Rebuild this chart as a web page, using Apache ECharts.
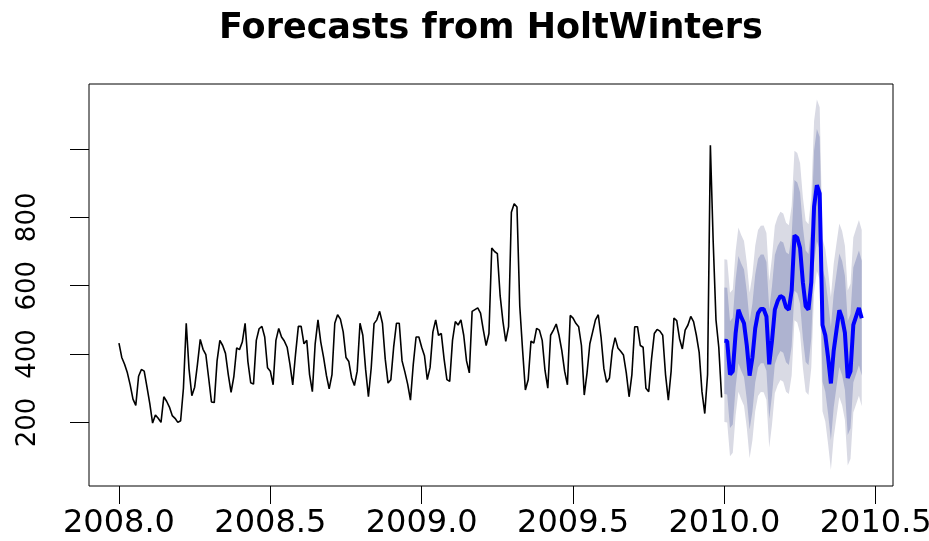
<!DOCTYPE html>
<html>
<head>
<meta charset="utf-8">
<script src="https://cdn.jsdelivr.net/npm/echarts@6/dist/echarts.min.js"></script>
<style>
  html, body { margin: 0; padding: 0; background: #ffffff; }
  #chart { width: 929px; height: 541px; }
</style>
</head>
<body>
<div id="chart"></div>
<script>
// Series starts at 2008.0 with 108 observations per year
const seriesStart = 2008;
const seriesFrequency = 108;

// Observed values, 2008.0 up to the end of 2009
const observed = [
  432, 390, 370, 345, 310, 268, 250, 335, 355, 350,
  303, 255, 198, 222, 212, 200, 275, 262, 245, 220,
  212, 200, 205, 300, 490, 356, 278, 303, 370, 443,
  414, 398, 330, 260, 258, 380, 440, 425, 402, 340,
  288, 335, 418, 413, 435, 490, 378, 316, 312, 440,
  474, 481, 450, 360,
  350, 310, 440, 475, 450, 438, 420, 370, 310, 400,
  481, 481, 430, 440, 340, 290, 430, 500, 435, 390,
  338, 298, 340, 490, 515, 502, 465, 390, 378, 330,
  308, 350, 490, 455, 355, 275, 360, 489, 500, 525,
  490, 385, 315, 325, 420, 490, 490, 380, 348, 312,
  265, 370, 450, 450,
  420, 395, 325, 361, 465, 500, 455, 460, 385, 325,
  320, 440, 495, 485, 500, 455, 380, 345, 525, 530,
  535, 520, 470, 425, 460, 710, 700, 694, 570, 495,
  437, 480, 815, 840, 830, 540, 412, 295, 325, 438,
  432, 475, 470, 440, 352, 300, 455, 470, 488, 455,
  410, 350, 310, 513, 505, 490,
  480, 425, 280, 345, 430, 465, 500, 515, 449, 358,
  317, 330, 410, 448, 418, 408, 397, 345, 275, 340,
  480, 480, 425, 420, 300, 290, 385, 460, 472, 467,
  455, 340, 265, 350, 505, 498, 445, 415, 470, 485,
  510, 495, 455, 405, 290, 226, 340, 1011, 730, 500,
  420, 273
];

// HoltWinters point forecasts from 2010.0
const forecastStart = 2010;
const forecastMean = [
  439, 438, 340, 350, 460, 530, 508, 490, 425, 337,
  390, 475, 520, 532, 532, 510, 370, 440, 530, 555,
  570, 565, 537, 530, 585, 747, 740, 710, 610, 540,
  530, 610, 831, 894, 870, 485, 455, 390, 314, 410,
  470, 528, 505, 462, 330, 350, 485, 510, 535, 505
];

// 80% prediction interval
const lower80 = [
  283, 282, 184, 194, 303, 373, 351, 333, 267, 179,
  232, 317, 361, 373, 373, 351, 210, 280, 370, 394,
  409, 404, 376, 368, 423, 585, 578, 547, 447, 377,
  367, 446, 667, 730, 705, 320, 290, 225, 148, 244,
  304, 362, 338, 295, 163, 183, 317, 342, 367, 337
];
const upper80 = [
  595, 594, 496, 506, 617, 687, 665, 647, 583, 495,
  548, 633, 679, 691, 691, 669, 530, 600, 690, 716,
  731, 726, 698, 692, 747, 909, 902, 873, 773, 703,
  693, 774, 995, 1058, 1035, 650, 620, 555, 480, 576,
  636, 694, 672, 629, 497, 517, 653, 678, 703, 673
];

// 95% prediction interval
const lower95 = [
  201, 200, 101, 111, 220, 290, 268, 249, 184, 95,
  148, 233, 277, 289, 288, 266, 126, 195, 285, 309,
  324, 319, 290, 283, 337, 499, 492, 461, 361, 290,
  280, 360, 580, 643, 618, 233, 203, 137, 61, 156,
  216, 274, 250, 207, 74, 94, 229, 253, 278, 247
];
const upper95 = [
  677, 676, 579, 589, 700, 770, 748, 731, 666, 579,
  632, 717, 763, 775, 776, 754, 614, 685, 775, 801,
  816, 811, 784, 777, 833, 995, 988, 959, 859, 790,
  780, 860, 1082, 1145, 1122, 737, 707, 643, 567, 664,
  724, 782, 760, 717, 586, 606, 741, 767, 792, 763
];

// Axis ticks and labels
const xTicks = [2008, 2008.5, 2009, 2009.5, 2010, 2010.5];
const yTicks = [200, 400, 600, 800, 1000];
const yLabels = [200, 400, 600, 800];

const chartTitle = 'Forecasts from HoltWinters';

// Time stamps for each observation / forecast step
const observedPoints = observed.map((v, i) => [seriesStart + i / seriesFrequency, v]);
const forecastTime = j => forecastStart + j / seriesFrequency;
const forecastPoints = forecastMean.map((v, j) => [forecastTime(j), v]);

// Shaded prediction band drawn as one polygon through the axis scales
function bandSeries(name, lower, upper, color, z) {
  return {
    name: name,
    type: 'custom',
    silent: true,
    z: z,
    data: [[forecastStart, forecastMean[0]]],
    renderItem: function (params, api) {
      const pts = [];
      for (let j = 0; j < lower.length; j++) pts.push(api.coord([forecastTime(j), lower[j]]));
      for (let j = upper.length - 1; j >= 0; j--) pts.push(api.coord([forecastTime(j), upper[j]]));
      return { type: 'polygon', shape: { points: pts }, style: { fill: color, stroke: null } };
    }
  };
}

const fontFamily = 'DejaVu Sans';
const chart = echarts.init(document.getElementById('chart'), null, { renderer: 'canvas' });

chart.setOption({
  animation: false,
  backgroundColor: '#ffffff',
  graphic: [{
    type: 'text',
    x: 491,
    y: 11,
    style: {
      text: chartTitle,
      fontFamily: fontFamily,
      fontWeight: 'bold',
      fontSize: 35,
      fill: '#000000',
      textAlign: 'center',
      textVerticalAlign: 'top'
    }
  }],
  grid: {
    left: 89, right: 36, top: 84, bottom: 55,
    show: true,
    borderColor: '#000000',
    borderWidth: 1,
    backgroundColor: 'transparent',
    containLabel: false,
    outerBoundsMode: 'none'
  },
  xAxis: {
    type: 'value',
    min: 2007.901,
    max: 2010.557,
    axisLine: { show: false },
    splitLine: { show: false },
    axisTick: {
      show: true,
      customValues: xTicks,
      length: 18,
      lineStyle: { color: '#000000', width: 1 }
    },
    axisLabel: {
      show: true,
      customValues: xTicks,
      formatter: v => Number(v).toFixed(1),
      fontFamily: fontFamily,
      fontSize: 32,
      color: '#000000',
      margin: 22
    }
  },
  yAxis: {
    type: 'value',
    min: 14,
    max: 1190,
    axisLine: { show: false },
    splitLine: { show: false },
    axisTick: {
      show: true,
      customValues: yTicks,
      length: 19,
      lineStyle: { color: '#000000', width: 1 }
    },
    axisLabel: {
      show: true,
      customValues: yLabels,
      rotate: 90,
      fontFamily: fontFamily,
      fontSize: 26,
      color: '#000000',
      margin: 48
    }
  },
  series: [
    bandSeries('95%', lower95, upper95, '#D9DAE4', 1),
    bandSeries('80%', lower80, upper80, '#AEB3D0', 2),
    {
      name: 'observed',
      type: 'line',
      data: observedPoints,
      showSymbol: false,
      z: 3,
      lineStyle: { color: '#000000', width: 1.6 }
    },
    {
      name: 'forecast',
      type: 'line',
      data: forecastPoints,
      showSymbol: false,
      z: 4,
      lineStyle: { color: '#0000FF', width: 4 }
    }
  ]
});
</script>
</body>
</html>
